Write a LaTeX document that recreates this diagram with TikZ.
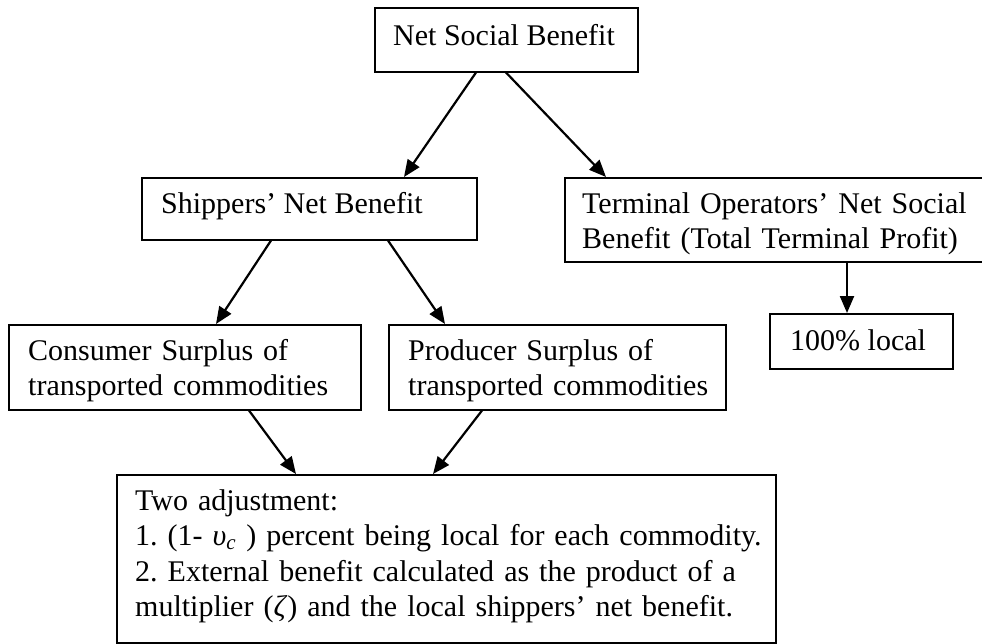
\documentclass[tikz,border=0pt]{standalone}
\usepackage{fontspec}
\setmainfont{Liberation Serif}
\frenchspacing
\usetikzlibrary{arrows.meta}
\begin{document}
\begin{tikzpicture}[x=1pt,y=-1pt,
  box/.style={draw, line width=1.5pt, inner sep=0pt, anchor=north west},
  lbl/.style={anchor=base west, inner sep=0pt, align=left, font=\fontsize{30}{35.5}\selectfont},
  arr/.style={line width=2.2pt, -{Triangle[length=17pt,width=14pt]}}]
\useasboundingbox (0,0) rectangle (982,643);
% boxes
\node[box, minimum width=263pt, minimum height=64pt] (nsb) at (374,7) {};
\node[box, minimum width=335pt, minimum height=62pt] (shp) at (141,177) {};
\node[box, minimum width=430pt, minimum height=84pt] (trm) at (564,177) {};
\node[box, minimum width=352pt, minimum height=85pt] (cons) at (8,324) {};
\node[box, minimum width=337pt, minimum height=85pt] (prod) at (388,324) {};
\node[box, minimum width=183pt, minimum height=55pt] (loc) at (769,313) {};
\node[box, minimum width=659pt, minimum height=168pt] (adj) at (116,474) {};
% texts
\node[lbl] (nsbt) at (393,45) {Net Social Benefit};
\node[lbl] (shpt) at (161,213) {Shippers’ Net Benefit};
\node[lbl, text width=400pt] (trmt) at (582,213) {Terminal Operators’ Net Social\\Benefit (Total Terminal Profit)};
\node[lbl, text width=330pt] (const) at (28,360) {Consumer Surplus of\\transported commodities};
\node[lbl, text width=330pt] (prodt) at (408,360) {Producer Surplus of\\transported commodities};
\node[lbl] (loct) at (790,350) {100\% local};
\node[lbl, text width=640pt] (adjt) at (135,510) {Two adjustment:\\1. (1- \textit{υ}\textsubscript{\textit{c}} ) percent being local for each commodity.\\2. External benefit calculated as the product of a\\multiplier (\textit{ζ}) and the local shippers’ net benefit.};
% arrows
\draw[arr] ([xshift=102pt]nsb.south west) -- ([xshift=263pt]shp.north west);
\draw[arr] ([xshift=132pt]nsb.south west) -- ([xshift=42pt]trm.north west);
\draw[arr] ([xshift=130pt]shp.south west) -- ([xshift=208pt]cons.north west);
\draw[arr] ([xshift=247pt]shp.south west) -- ([xshift=57pt]prod.north west);
\draw[arr] ([xshift=283pt]trm.south west) -- ([xshift=78pt]loc.north west);
\draw[arr] ([xshift=241pt]cons.south west) -- ([xshift=180pt]adj.north west);
\draw[arr] ([xshift=94pt]prod.south west) -- ([xshift=317pt]adj.north west);
\end{tikzpicture}
\end{document}
